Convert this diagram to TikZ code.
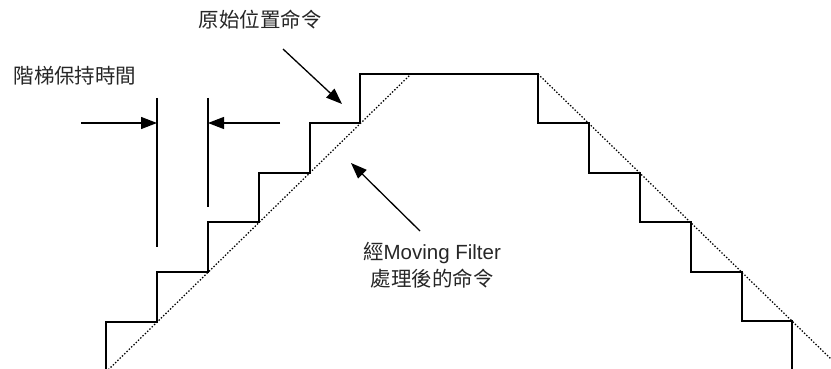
\documentclass[tikz,border=0pt]{standalone}
\usepackage{fontspec}
\setmainfont{Liberation Sans}
\newfontfamily\cjk{Noto Sans CJK TC}
\usetikzlibrary{arrows.meta}
\begin{document}
\begin{tikzpicture}[x=1pt,y=-1pt,
  stair/.style={line width=1.3pt,line join=miter},
  filt/.style={line width=1.25pt,dash pattern=on 1.4pt off 1.8pt},
  marker/.style={line width=1.3pt},
  ptr/.style={line width=1.3pt,-{Triangle[length=16pt,width=12pt]}},
  lbl/.style={font=\fontsize{20.5pt}{26pt}\selectfont,text=black!85,inner sep=0pt,align=center}]
\useasboundingbox (0,0) rectangle (831,369);
% original staircase command
\draw[stair] (106,372) -- (106,322) -- (157,322) -- (157,272) -- (208,272) -- (208,222)
  -- (259,222) -- (259,173) -- (310,173) -- (310,123) -- (360,123) -- (360,74)
  -- (538,74) -- (538,123) -- (589,123) -- (589,173) -- (640,173) -- (640,222)
  -- (691,222) -- (691,272) -- (742,272) -- (742,321) -- (792,321) -- (792,372);
% filtered command
\draw[filt] (106,372) -- (411,74);
\draw[filt] (538,74) -- (831,359);
% step hold time markers
\coordinate (m1t) at (157,98);
\coordinate (m1b) at (157,247);
\coordinate (m2t) at (208,98);
\coordinate (m2b) at (208,207);
\draw[marker] (m1t) -- (m1b);
\draw[marker] (m2t) -- (m2b);
\coordinate (a1s) at (81,123);
\coordinate (a1e) at (157,123);
\coordinate (a2s) at (280,123);
\coordinate (a2e) at (208,123);
\draw[ptr] (a1s) -- (a1e);
\draw[ptr] (a2s) -- (a2e);
% labels
\node[lbl] (hold) at (75,76) {\cjk 階梯保持時間};
\node[lbl] (orig) at (260,20) {\cjk 原始位置命令};
\node[lbl] (filtA) at (432,253) {{\cjk 經}Moving Filter};
\node[lbl] (filtB) at (432,279) {\cjk 處理後的命令};
% pointers
\coordinate (p1s) at (283,49);
\coordinate (p1e) at (342,104);
\coordinate (p2s) at (420,231);
\coordinate (p2e) at (351,163);
\draw[ptr] (p1s) -- (p1e);
\draw[ptr] (p2s) -- (p2e);
\end{tikzpicture}
\end{document}
